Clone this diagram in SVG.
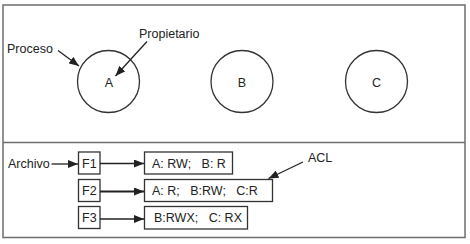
<svg xmlns="http://www.w3.org/2000/svg" width="470" height="244" viewBox="0 0 470 244">
  <style>
    text { font-family: "Liberation Sans", Arial, sans-serif; font-size: 12.5px; fill: #222; }
    .mid { text-anchor: middle; }
    .frame { fill: #fff; stroke: #6e6e6e; stroke-width: 1.5; }
    .proc { fill: none; stroke: #333; stroke-width: 1.3; }
    .box { fill: #fff; stroke: #333; stroke-width: 1.3; }
    .link { fill: none; stroke: #222; stroke-width: 1.3; marker-end: url(#head); }
    .thick { stroke-width: 2; }
  </style>
  <defs>
    <marker id="head" viewBox="0 0 10 8" refX="10" refY="4" markerWidth="10" markerHeight="8" markerUnits="userSpaceOnUse" orient="auto">
      <path d="M0,0 L10,4 L0,8 Z" fill="#222"/>
    </marker>
  </defs>

  <!-- outer frame and divider -->
  <rect class="frame" x="3" y="5" width="462" height="232.5"/>
  <line x1="3" y1="142.5" x2="465" y2="142.5" stroke="#6e6e6e" stroke-width="1.5"/>

  <!-- processes -->
  <g id="procA">
    <circle class="proc" cx="108.5" cy="81.5" r="31"/>
    <text class="mid" x="109" y="86.5">A</text>
  </g>
  <g id="procB">
    <circle class="proc" cx="242" cy="81.5" r="31"/>
    <text class="mid" x="242" y="86.5">B</text>
  </g>
  <g id="procC">
    <circle class="proc" cx="376.5" cy="81.5" r="31"/>
    <text class="mid" x="376.5" y="86.5">C</text>
  </g>

  <!-- labels -->
  <g id="lblProceso"><text x="7" y="53">Proceso</text></g>
  <g id="lblPropietario"><text x="139" y="38">Propietario</text></g>
  <g id="lblArchivo"><text x="8" y="167.5">Archivo</text></g>
  <g id="lblACL"><text x="308" y="162">ACL</text></g>

  <!-- files -->
  <g id="F1">
    <rect class="box" x="78.5" y="152" width="21.5" height="22"/>
    <text class="mid" x="89.3" y="167.5">F1</text>
  </g>
  <g id="F2">
    <rect class="box" x="78.5" y="179.5" width="21.5" height="22"/>
    <text class="mid" x="89.3" y="195">F2</text>
  </g>
  <g id="F3">
    <rect class="box" x="78.5" y="206.5" width="21.5" height="22"/>
    <text class="mid" x="89.3" y="222">F3</text>
  </g>

  <!-- access control lists -->
  <g id="acl1">
    <rect class="box" x="144.5" y="152" width="88" height="22"/>
    <text x="152" y="167.5" xml:space="preserve">A: RW;   B: R</text>
  </g>
  <g id="acl2">
    <rect class="box" x="144.5" y="179.5" width="128" height="22"/>
    <text x="152" y="195" xml:space="preserve">A: R;   B:RW;   C:R</text>
  </g>
  <g id="acl3">
    <rect class="box" x="144.5" y="206.5" width="103" height="22.5"/>
    <text x="154" y="222" xml:space="preserve">B:RWX;   C: RX</text>
  </g>

  <!-- connectors -->
  <g id="connectors">
    <line class="link" x1="58" y1="50.5" x2="79" y2="66"/>
    <line class="link" x1="147" y1="41.5" x2="115.5" y2="76"/>
    <line class="link" x1="51.5" y1="164" x2="78" y2="164"/>
    <line class="link" x1="100" y1="163.5" x2="144" y2="163.5"/>
    <line class="link thick" x1="100" y1="191.5" x2="144" y2="191.5"/>
    <line class="link" x1="100" y1="219" x2="144" y2="219"/>
    <line class="link" x1="303" y1="162" x2="268.5" y2="178.5"/>
  </g>
</svg>
